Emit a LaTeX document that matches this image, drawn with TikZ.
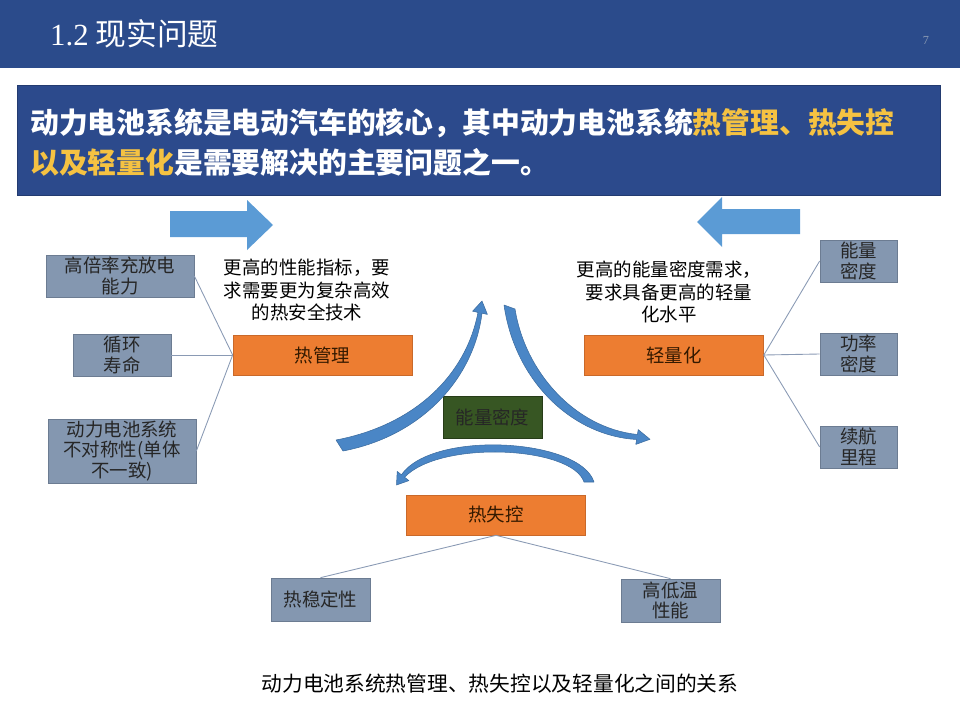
\documentclass[tikz,border=0pt]{standalone}
\usepackage{fontspec}
\setmainfont{Noto Sans CJK SC}
\newfontfamily\latinserif{Liberation Serif}
\usetikzlibrary{arrows.meta}

\definecolor{headblue}{HTML}{2B4B8B}
\definecolor{bannerblue}{HTML}{2C4A8C}
\definecolor{hiyellow}{HTML}{F5C242}
\definecolor{blockblue}{HTML}{5B9BD5}
\definecolor{bendblue}{HTML}{4A86C6}
\definecolor{boxgray}{HTML}{8497B0}
\definecolor{boxline}{HTML}{6C7C92}
\definecolor{boxorange}{HTML}{ED7D31}
\definecolor{orgline}{HTML}{C9692A}
\definecolor{boxgreen}{HTML}{375623}
\definecolor{linkgray}{HTML}{8A9AB4}

\begin{document}
\begin{tikzpicture}[x=0.02cm, y=-0.02cm,
    gbox/.style={draw=boxline, fill=boxgray, inner sep=0pt, align=center,
        text=black!85, font=\fontsize{10.5}{11.8}\selectfont},
    obox/.style={draw=orgline, fill=boxorange, inner sep=0pt,
        minimum width=3.58cm, minimum height=0.8cm,
        text=black!80!orange, font=\fontsize{10.5}{12}\selectfont},
    note/.style={align=center, font=\fontsize{10.5}{12.8}\selectfont},
    link/.style={draw=linkgray, line width=0.5pt},
    crescent/.style={fill=bendblue, draw=bendblue!80!black, line width=0.3pt, line join=round}]
    \useasboundingbox (0,0) rectangle (960,720);

    % kopf
    \fill[headblue] (0,0) rectangle (960,68);
    \node[anchor=west, text=white, font=\fontsize{17.5}{20}\selectfont] (title) at (44,34)
        {{\latinserif 1.2} 现实问题};
    \node[text=linkgray, font=\latinserif\fontsize{7}{8}\selectfont] (page) at (926,40) {7};

    % banner
    \node[draw=bannerblue!80!black, fill=bannerblue, minimum width=18.46cm, minimum height=2.2cm,
        inner sep=0pt] (banner) at (478.5,140) {};
    \node[anchor=west, align=left, text=white, font=\bfseries\fontsize{16.4}{22.7}\selectfont] (claim) at (24,142)
        {动力电池系统是电动汽车的核心，其中动力电池系统\textcolor{hiyellow}{热管理、热失控}\\
         \textcolor{hiyellow}{以及轻量化}是需要解决的主要问题之一。};

    % blockpfeile
    \fill[blockblue] (170,211) -- (247,211) -- (247,200) -- (273,225) -- (247,250)
        -- (247,237) -- (170,237) -- cycle;
    \fill[blockblue] (800,209) -- (722,209) -- (722,197) -- (697,222) -- (722,247)
        -- (722,234) -- (800,234) -- cycle;

    % links
    \node[gbox, minimum width=2.96cm, minimum height=0.84cm] (rate) at (120,276) {高倍率充放电\\能力};
    \node[gbox, minimum width=1.96cm, minimum height=0.84cm] (cycle) at (122,355) {循环\\寿命};
    \node[gbox, minimum width=2.96cm, minimum height=1.28cm] (asym) at (122,451)
        {动力电池系统\\不对称性(单体\\不一致)};
    \node[obox] (thm) at (322.5,355) {热管理};
    \node[note] (thmnote) at (307,290) {更高的性能指标，要\\求需要更为复杂高效\\的热安全技术};

    % rechts
    \node[gbox, minimum width=1.54cm, minimum height=0.84cm] (edens) at (858.5,261) {能量\\密度};
    \node[gbox, minimum width=1.54cm, minimum height=0.84cm] (pdens) at (858.5,354) {功率\\密度};
    \node[gbox, minimum width=1.54cm, minimum height=0.84cm] (range) at (858.5,447) {续航\\里程};
    \node[obox] (light) at (674,355) {轻量化};
    \node[note] (lightnote) at (669,292) {更高的能量密度需求，\\要求具备更高的轻量\\化水平};

    % mitte und unten
    \node[draw=boxgreen!70!black, fill=boxgreen, minimum width=1.98cm, minimum height=0.84cm,
        inner sep=0pt, text=black!85, font=\fontsize{10.5}{12}\selectfont] (dens) at (492.5,417) {能量密度};
    \node[obox] (run) at (496,515) {热失控};
    \node[gbox, minimum width=1.98cm, minimum height=0.86cm] (stab) at (320.5,599.5) {热稳定性};
    \node[gbox, minimum width=1.98cm, minimum height=0.86cm] (temp) at (670.5,600.5) {高低温\\性能};

    % verbindungen
    \draw[link] (thm.west) -- (rate.east);
    \draw[link] (thm.west) -- (cycle.east);
    \draw[link] (thm.west) -- (asym.east);
    \draw[link] (light.east) -- (edens.west);
    \draw[link] (light.east) -- (pdens.west);
    \draw[link] (light.east) -- (range.west);
    \draw[link] (run.south) -- (stab.north);
    \draw[link] (run.south) -- (temp.north);

    % kreislauf (gebogene pfeile)
    \filldraw[crescent] (336,440) .. controls (415,425) and (466,375) .. (478,312.4)
        -- (472.6,311.2) -- (482,301) -- (487.4,314.4) -- (482,313.2)
        .. controls (474,378) and (422,436) .. (343,451) -- cycle;
    \filldraw[crescent] (504,305) -- (515,309) .. controls (525,372) and (575,428) .. (637.4,434.5)
        -- (638.2,429.6) -- (650,439.3) -- (635.8,444.4) -- (636.6,439.5)
        .. controls (573,436) and (515,382) .. (504,305) -- cycle;
    \filldraw[crescent] (594,482) .. controls (580,438) and (432,430) .. (401.4,474.8)
        -- (397.2,471.4) -- (396.5,485) -- (408.9,480.6) -- (404.6,477.2)
        .. controls (440,440) and (572,446) .. (584,482) -- cycle;

    % unterschrift
    \node[font=\fontsize{11.8}{14}\selectfont] (caption) at (500,684)
        {动力电池系统热管理、热失控以及轻量化之间的关系};
\end{tikzpicture}
\end{document}
